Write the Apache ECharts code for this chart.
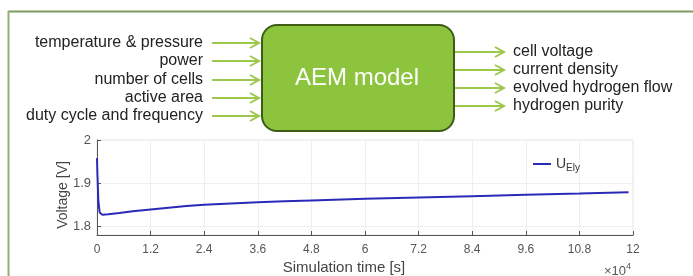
<!DOCTYPE html>
<html lang="en" style="height: 100%">
<head>
    <meta charset="UTF-8">
    <title>AEM model</title>
    <style>
        #main{
            width: 693px;
            height: 276px;
        }
    </style>
    <script type="text/javascript" src="https://cdn.jsdelivr.net/npm/echarts@6/dist/echarts.min.js"></script>
</head>
<body style="margin: 0; background: #fff; overflow: hidden">
<div id="main"></div>
<script>
    // diagram texts
    var inputs = ['temperature & pressure', 'power', 'number of cells', 'active area', 'duty cycle and frequency'];
    var outputs = ['cell voltage', 'current density', 'evolved hydrogen flow', 'hydrogen purity'];

    // simulation time (x10^4 s) and cell voltage (V)
    var time = [0, 0.01, 0.03, 0.06, 0.12, 0.25, 0.5, 0.8, 1.2, 1.6, 2.0, 2.4, 3.0, 3.6, 4.2, 4.8, 6.0, 7.2, 8.4, 9.6, 10.8, 11.9];
    var voltage = [1.958, 1.92, 1.86, 1.832, 1.827, 1.828, 1.831, 1.835, 1.839, 1.843, 1.847, 1.850, 1.853, 1.856, 1.858, 1.860, 1.864, 1.867, 1.870, 1.873, 1.876, 1.879];
    var yTicks = [1.8, 1.9, 2];

    var chart = echarts.init(document.getElementById('main'));

    var font = 'Liberation Sans, Arial, sans-serif';
    var arrowColor = '#9dc84c';
    var graphics = [];

    // outer frame
    graphics.push({type: 'line', shape: {x1: 8, y1: 11.5, x2: 700, y2: 11.5}, style: {stroke: '#7d9c5e', lineWidth: 2, lineCap: 'butt'}});
    graphics.push({type: 'line', shape: {x1: 8.5, y1: 11, x2: 8.5, y2: 280}, style: {stroke: '#93ad78', lineWidth: 2, lineCap: 'butt'}});

    // model box
    graphics.push({type: 'rect', shape: {x: 262, y: 25, width: 192, height: 106, r: 15},
        style: {fill: '#8cc43e', stroke: '#3e5c14', lineWidth: 2}});
    graphics.push({type: 'text', x: 357, y: 78, style: {text: 'AEM model', fill: '#fff', font: '24px ' + font,
        align: 'center', verticalAlign: 'middle'}});

    function arrow(x1, x2, y) {
        graphics.push({type: 'line', shape: {x1: x1, y1: y, x2: x2, y2: y}, style: {stroke: arrowColor, lineWidth: 2}});
        graphics.push({type: 'polyline', shape: {points: [[x2 - 9, y - 5], [x2, y], [x2 - 9, y + 5]]},
            style: {stroke: arrowColor, lineWidth: 2, fill: null}});
    }

    var inY = [43, 61, 80, 98, 116];
    inputs.forEach(function (t, i) {
        graphics.push({type: 'text', x: 203, y: inY[i], style: {text: t, fill: '#222', font: '16px ' + font,
            align: 'right', verticalAlign: 'middle'}});
        arrow(212, 259, inY[i]);
    });
    var outY = [52, 70, 88, 106];
    outputs.forEach(function (t, i) {
        graphics.push({type: 'text', x: 513, y: outY[i], style: {text: t, fill: '#222', font: '16px ' + font,
            align: 'left', verticalAlign: 'middle'}});
        arrow(455, 504, outY[i]);
    });

    // axis names
    graphics.push({type: 'text', x: 344, y: 268, style: {text: 'Simulation time [s]', fill: '#444', font: '15px ' + font,
        align: 'center', verticalAlign: 'middle'}});
    graphics.push({type: 'text', x: 63, y: 195, rotation: Math.PI / 2, style: {text: 'Voltage [V]', fill: '#444',
        font: '14px ' + font, align: 'center', verticalAlign: 'middle'}});
    graphics.push({type: 'text', x: 631, y: 271, style: {text: '{a|×10}{b|4}', align: 'right', verticalAlign: 'middle',
        rich: {a: {fontSize: 13, fontFamily: font, fill: '#555'}, b: {fontSize: 9, fontFamily: font, fill: '#555', padding: [0, 0, 9, 0]}}}});

    var option = {
        animation: false,
        textStyle: {fontFamily: font},
        grid: {left: 97, right: 60, top: 140, bottom: 41, show: true, borderColor: '#e6e6e6', borderWidth: 1},
        legend: {
            left: 528, top: 152,
            itemWidth: 18, itemHeight: 2, icon: 'rect', itemGap: 2,
            formatter: function () { return '{u|U}{s|Ely}'; },
            textStyle: {
                color: '#333',
                rich: {u: {fontSize: 14, fontFamily: font}, s: {fontSize: 10, fontFamily: font, padding: [8, 0, 0, 0]}}
            }
        },
        xAxis: {
            type: 'value', min: 0, max: 12, interval: 1.2,
            axisLine: {lineStyle: {color: '#555'}},
            axisTick: {inside: true, length: 4, lineStyle: {color: '#555'}},
            axisLabel: {color: '#555', fontSize: 12, margin: 9,
                formatter: function (v) { return String(+v.toFixed(1)); }},
            splitLine: {show: true, lineStyle: {color: '#efefef'}}
        },
        yAxis: {
            type: 'value', min: 1.78, max: 2,
            axisLine: {show: true, lineStyle: {color: '#555'}},
            axisTick: {show: true, inside: true, length: 4, customValues: yTicks, lineStyle: {color: '#555'}},
            axisLabel: {color: '#555', fontSize: 13, margin: 6, customValues: yTicks,
                formatter: function (v) { return String(+v.toFixed(1)); }},
            splitLine: {show: true, lineStyle: {color: '#efefef'}}
        },
        series: [{
            name: 'U',
            type: 'line',
            data: time.map(function (t, i) { return [t, voltage[i]]; }),
            showSymbol: false,
            lineStyle: {color: '#2a2ab8', width: 2},
            itemStyle: {color: '#2a2ab8'}
        }],
        graphic: graphics
    };

    chart.setOption(option);
</script>
</body>
</html>
